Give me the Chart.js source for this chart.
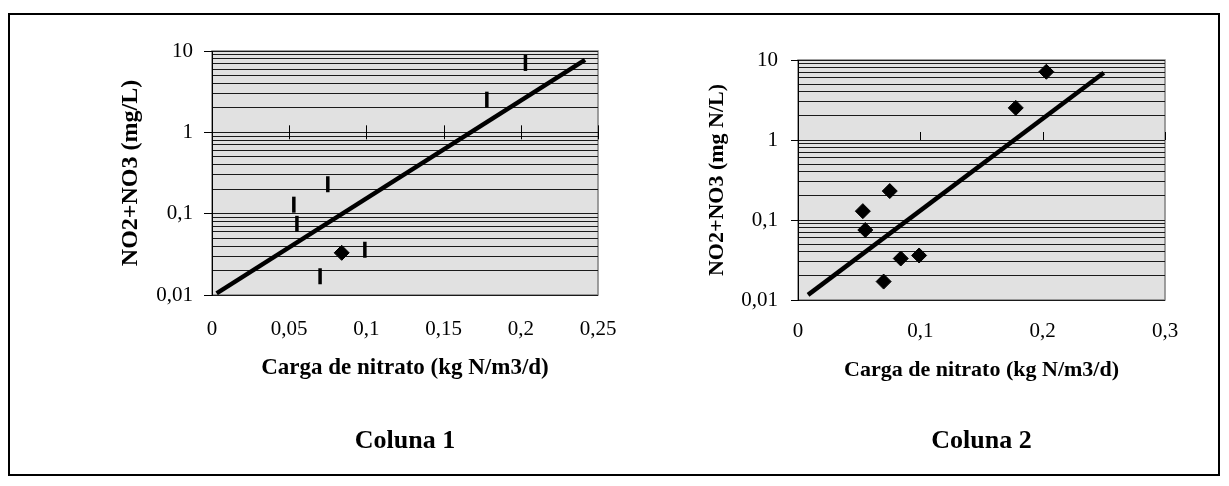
<!DOCTYPE html>
<html>
<head>
<meta charset="utf-8">
<script src="https://cdn.jsdelivr.net/npm/chart.js@4.4.0/dist/chart.umd.min.js"></script>
<style>
    html, body { margin: 0; padding: 0; background: #fff; }
    #frame { position: absolute; left: 8px; top: 13px; width: 1212px; height: 463px; border: 2px solid #000; box-sizing: border-box; }
    #c1 { position: absolute; left: 0; top: 0; }
    #c2 { position: absolute; left: 640px; top: 0; }
</style>
</head>
<body>
<div id="frame"></div>
<canvas id="c1" width="640" height="460"></canvas>
<canvas id="c2" width="560" height="460"></canvas>
<script>
// Carga de nitrato (kg N/m3/d) x NO2+NO3 - same samples in both columns
const loadX = [0.053, 0.055, 0.075, 0.084, 0.099, 0.070, 0.178, 0.203];
const nitrateY = [0.129, 0.075, 0.23, 0.033, 0.036, 0.017, 2.52, 7.13];

// exponential trend lines (end points)
const trend1X = [0.003, 0.2416];
const trend1Y = [0.0105, 7.77];
const trend2X = [0.0082, 0.250];
const trend2Y = [0.0116, 6.94];

// log axis: gridline at every 1..9 step, labels only on decades
const yTicks = [0.01, 0.02, 0.03, 0.04, 0.05, 0.06, 0.07, 0.08, 0.09,
                0.1, 0.2, 0.3, 0.4, 0.5, 0.6, 0.7, 0.8, 0.9,
                1, 2, 3, 4, 5, 6, 7, 8, 9, 10];
const yLabels = [0.01, 0.1, 1, 10];
const xTicks1 = [0, 0.05, 0.1, 0.15, 0.2, 0.25];
const xTicks2 = [0, 0.1, 0.2, 0.3];

const SERIF = "'Liberation Serif', 'Times New Roman', serif";
const comma = v => String(v).replace('.', ',');

function pts(xs, ys) {
    return xs.map((x, i) => ({ x: x, y: ys[i] }));
}

// grey plot area + x tick marks drawn on the y = 1 line (Excel axis crossing)
const plotFrame = {
    id: 'plotFrame',
    beforeDraw(chart) {
        const { ctx, chartArea: a } = chart;
        ctx.save();
        ctx.fillStyle = '#e1e1e1';
        ctx.fillRect(a.left, a.top, a.right - a.left, a.bottom - a.top);
        ctx.strokeStyle = '#808080';
        ctx.lineWidth = 1.5;
        ctx.strokeRect(a.left, a.top, a.right - a.left, a.bottom - a.top);
        ctx.restore();
    },
    beforeDatasetsDraw(chart, args, opts) {
        const { ctx, scales: { x, y } } = chart;
        const yp = y.getPixelForValue(1);
        ctx.save();
        ctx.strokeStyle = '#000';
        ctx.lineWidth = 1;
        x.ticks.forEach(t => {
            const xp = Math.round(x.getPixelForValue(t.value)) + 0.5;
            ctx.beginPath();
            ctx.moveTo(xp, yp - opts.up);
            ctx.lineTo(xp, yp + opts.down);
            ctx.stroke();
        });
        ctx.restore();
    }
};

function makeChart(id, cfg) {
    const isDiamond = c => cfg.dashes && c.dataIndex !== 3 ? false : true;
    return new Chart(document.getElementById(id), {
        type: 'scatter',
        data: {
            datasets: [{
                data: pts(cfg.trendX, cfg.trendY),
                showLine: true,
                borderColor: '#000',
                borderWidth: 4.5,
                pointRadius: 0
            }, {
                data: pts(loadX, nitrateY),
                showLine: false,
                pointStyle: c => isDiamond(c) ? 'rectRot' : 'line',
                pointRotation: c => isDiamond(c) ? 0 : 90,
                pointRadius: c => isDiamond(c) ? 7.5 : 8,
                pointBorderWidth: c => isDiamond(c) ? 1 : 3.5,
                pointBackgroundColor: '#000',
                pointBorderColor: '#000'
            }]
        },
        options: {
            responsive: false,
            animation: false,
            layout: { padding: cfg.padding },
            plugins: {
                legend: { display: false },
                tooltip: { enabled: false },
                title: {
                    display: true,
                    text: cfg.caption,
                    position: 'bottom',
                    fullSize: false,
                    color: '#000',
                    font: { family: SERIF, size: 26, weight: 'bold' },
                    padding: { top: cfg.captionPad, bottom: 0 }
                },
                plotFrame: { up: cfg.tickUp, down: cfg.tickDown }
            },
            scales: {
                x: {
                    type: 'linear',
                    min: 0,
                    max: cfg.xMax,
                    afterBuildTicks: s => { s.ticks = cfg.xTicks.map(v => ({ value: v })); },
                    afterFit: s => { s.height = cfg.xHeight; },
                    grid: { display: false, drawTicks: false },
                    border: { display: false },
                    ticks: {
                        color: '#000',
                        padding: cfg.xPad,
                        maxRotation: 0,
                        autoSkip: false,
                        font: { family: SERIF, size: 21 },
                        callback: v => comma(v)
                    },
                    title: {
                        display: true,
                        text: 'Carga de nitrato (kg N/m3/d)',
                        color: '#000',
                        padding: 0,
                        font: { family: SERIF, size: cfg.xTitleSize, weight: 'bold' }
                    }
                },
                y: {
                    type: 'logarithmic',
                    min: 0.01,
                    max: 10,
                    afterBuildTicks: s => { s.ticks = yTicks.map(v => ({ value: v })); },
                    afterFit: s => { s.width = cfg.yWidth; },
                    grid: {
                        color: '#1a1a1a',
                        lineWidth: 1,
                        tickLength: cfg.tickLen,
                        tickColor: c => yLabels.includes(c.tick.value) ? '#000' : 'rgba(0,0,0,0)'
                    },
                    border: { display: true, color: '#000', width: 1 },
                    ticks: {
                        color: '#000',
                        padding: cfg.yPad,
                        autoSkip: false,
                        font: { family: SERIF, size: 21 },
                        callback: v => yLabels.includes(v) ? comma(v) : ''
                    },
                    title: {
                        display: true,
                        text: cfg.yTitle,
                        color: '#000',
                        padding: 0,
                        font: { family: SERIF, size: cfg.yTitleSize, weight: 'bold' }
                    }
                }
            }
        },
        plugins: [plotFrame]
    });
}

makeChart('c1', {
    dashes: true,
    trendX: trend1X, trendY: trend1Y,
    xMax: 0.25, xTicks: xTicks1,
    padding: { left: 116.6, right: 42, top: 51, bottom: 3.4 },
    yWidth: 95.4, xHeight: 87.3,
    xPad: 21.4, yPad: 11, tickLen: 8,
    xTitleSize: 23, yTitleSize: 24,
    yTitle: 'NO2+NO3 (mg/L)',
    caption: 'Coluna 1', captionPad: 43.1,
    tickUp: 7, tickDown: 7
});

makeChart('c2', {
    dashes: false,
    trendX: trend2X, trendY: trend2Y,
    xMax: 0.3, xTicks: xTicks2,
    padding: { left: 63.8, right: 35, top: 60, bottom: 3.4 },
    yWidth: 94.2, xHeight: 83.7,
    xPad: 18.4, yPad: 13, tickLen: 7,
    xTitleSize: 22, yTitleSize: 22,
    yTitle: 'NO2+NO3 (mg N/L)',
    caption: 'Coluna 2', captionPad: 41.7,
    tickUp: 8, tickDown: 0
});
</script>
</body>
</html>
